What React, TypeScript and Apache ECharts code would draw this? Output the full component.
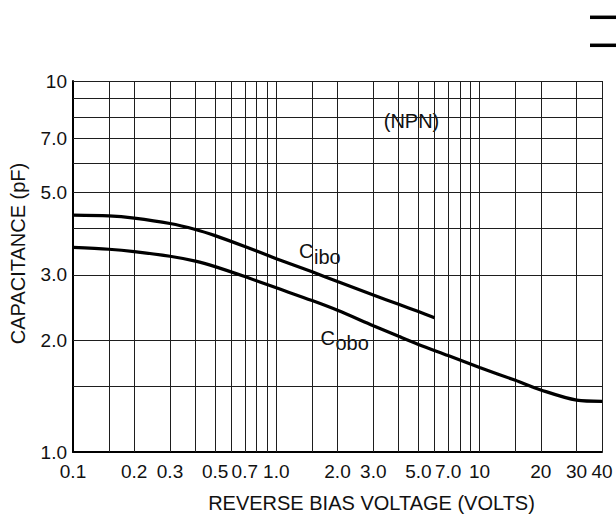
import { useEffect, useRef } from "react";
import * as echarts from "echarts";

// Axis ticks (values and the text printed under/beside them)
const xTickValues = [0.1, 0.2, 0.3, 0.5, 0.7, 1, 2, 3, 5, 7, 10, 20, 30, 40];
const xTickLabels = ["0.1", "0.2", "0.3", "0.5", "0.7", "1.0", "2.0", "3.0", "5.0", "7.0", "10", "20", "30", "40"];
const yTickValues = [1, 2, 3, 5, 7, 10];
const yTickLabels = ["1.0", "2.0", "3.0", "5.0", "7.0", "10"];

// Log-paper grid lines
const xGridValues = [0.15, 0.2, 0.3, 0.4, 0.5, 0.6, 0.7, 0.8, 0.9, 1, 1.5, 2, 3, 4, 5, 6, 7, 8, 9, 10, 15, 20, 30, 40];
const yGridValues = [1.5, 2, 3, 4, 5, 6, 7, 8, 9, 10];

// Input capacitance Cibo (pF) vs reverse bias (V)
const voltsCibo = [0.1, 0.15, 0.2, 0.3, 0.4, 0.5, 0.7, 1, 1.5, 2, 3, 4, 5, 6];
const capCibo = [4.35, 4.33, 4.27, 4.13, 3.98, 3.83, 3.58, 3.32, 3.06, 2.88, 2.65, 2.5, 2.39, 2.3];

// Output capacitance Cobo (pF) vs reverse bias (V)
const voltsCobo = [0.1, 0.15, 0.2, 0.3, 0.4, 0.5, 0.7, 1, 1.5, 2, 3, 4, 5, 7, 10, 15, 20, 30, 40];
const capCobo = [3.56, 3.52, 3.47, 3.37, 3.27, 3.16, 2.97, 2.77, 2.56, 2.41, 2.19, 2.05, 1.95, 1.82, 1.69, 1.56, 1.47, 1.38, 1.37];

const FONT = '"Liberation Sans", Arial, sans-serif';

function tickFormatter(values: number[], labels: string[]) {
  return (v: number) => {
    const i = values.findIndex((t) => Math.abs(Math.log10(t) - Math.log10(v)) < 1e-6);
    return i >= 0 ? labels[i] : "";
  };
}

function pairs(xs: number[], ys: number[]) {
  return xs.map((x, i) => [x, ys[i]]);
}

export default function App() {
  const ref = useRef<HTMLDivElement>(null);

  useEffect(() => {
    if (!ref.current) return;
    const chart = echarts.init(ref.current, undefined, { renderer: "svg" });

    const gridLineData = [
      ...xGridValues.map((v) => ({ xAxis: v })),
      ...yGridValues.map((v) => ({ yAxis: v })),
    ];

    const note = (text: string, x: number, y: number, size: number, align = "left") => ({
      type: "text",
      x,
      y,
      z: 4,
      silent: true,
      style: {
        text,
        font: `${size}px ${FONT}`,
        fill: "#111",
        align,
        textAlign: align,
        verticalAlign: "middle",
        textVerticalAlign: "middle",
      },
    });

    const curveStyle = {
      type: "line",
      smooth: 0.3,
      symbol: "none",
      silent: true,
      z: 5,
      lineStyle: { color: "#000", width: 3.2 },
    };

    const option: any = {
      animation: false,
      backgroundColor: "#fff",
      grid: { left: 72, top: 81, right: 14, bottom: 66, containLabel: false },
      xAxis: {
        type: "log",
        logBase: 10,
        min: 0.1,
        max: 40,
        axisLine: { show: true, onZero: false, lineStyle: { color: "#000", width: 2 } },
        axisTick: { show: false },
        splitLine: { show: false },
        minorTick: { show: false },
        minorSplitLine: { show: false },
        axisLabel: {
          customValues: xTickValues,
          formatter: tickFormatter(xTickValues, xTickLabels),
          color: "#111",
          fontSize: 19,
          fontFamily: FONT,
          margin: 10,
          showMinLabel: true,
          showMaxLabel: true,
          hideOverlap: false,
        },
        name: "REVERSE BIAS VOLTAGE (VOLTS)",
        nameLocation: "middle",
        nameGap: 41,
        nameTextStyle: { fontSize: 20, color: "#111", fontFamily: FONT, padding: [0, 0, 0, 68] },
      },
      yAxis: {
        type: "log",
        logBase: 10,
        min: 1,
        max: 10,
        axisLine: { show: true, onZero: false, lineStyle: { color: "#000", width: 2 } },
        axisTick: { show: false },
        splitLine: { show: false },
        minorTick: { show: false },
        minorSplitLine: { show: false },
        axisLabel: {
          customValues: yTickValues,
          formatter: tickFormatter(yTickValues, yTickLabels),
          color: "#111",
          fontSize: 19,
          fontFamily: FONT,
          margin: 6,
          showMinLabel: true,
          showMaxLabel: true,
          hideOverlap: false,
        },
        name: "CAPACITANCE (pF)",
        nameLocation: "middle",
        nameGap: 45,
        nameTextStyle: { fontSize: 20, color: "#111", fontFamily: FONT, padding: [0, 0, 0, 26] },
      },
      series: [
        {
          name: "grid",
          type: "line",
          data: [[0.1, 1]],
          symbol: "none",
          lineStyle: { width: 0, opacity: 0 },
          silent: true,
          z: 1,
          markLine: {
            silent: true,
            symbol: ["none", "none"],
            label: { show: false },
            emphasis: { disabled: true },
            lineStyle: { color: "#1e1e1e", width: 1, type: "solid" },
            data: gridLineData,
          },
        },
        { ...curveStyle, name: "Cibo", data: pairs(voltsCibo, capCibo) },
        { ...curveStyle, name: "Cobo", data: pairs(voltsCobo, capCobo) },
      ],
      graphic: [
        // white patches that interrupt the grid behind the annotations
        { type: "rect", z: 3, silent: true, shape: { x: 375, y: 98, width: 66, height: 40 }, style: { fill: "#fff" } },
        { type: "rect", z: 3, silent: true, shape: { x: 296, y: 234, width: 50, height: 33 }, style: { fill: "#fff" } },
        { type: "rect", z: 3, silent: true, shape: { x: 314, y: 319, width: 56, height: 37 }, style: { fill: "#fff" } },
        note("(NPN)", 411.5, 121, 20, "center"),
        note("C", 299, 250.5, 20),
        note("ibo", 314, 256.5, 20),
        note("C", 320.5, 337.5, 20),
        note("obo", 335.5, 343, 20),
        // rule marks at the top right
        { type: "line", z: 4, silent: true, shape: { x1: 590, y1: 17.3, x2: 616, y2: 17.3 }, style: { stroke: "#000", lineWidth: 3.5 } },
        { type: "line", z: 4, silent: true, shape: { x1: 590, y1: 45.3, x2: 616, y2: 45.3 }, style: { stroke: "#000", lineWidth: 3.5 } },
      ],
    };

    chart.setOption(option);
    return () => chart.dispose();
  }, []);

  return (
    <div
      ref={ref}
      style={{ position: "fixed", left: 0, top: 0, width: 616, height: 518, background: "#fff" }}
    />
  );
}
